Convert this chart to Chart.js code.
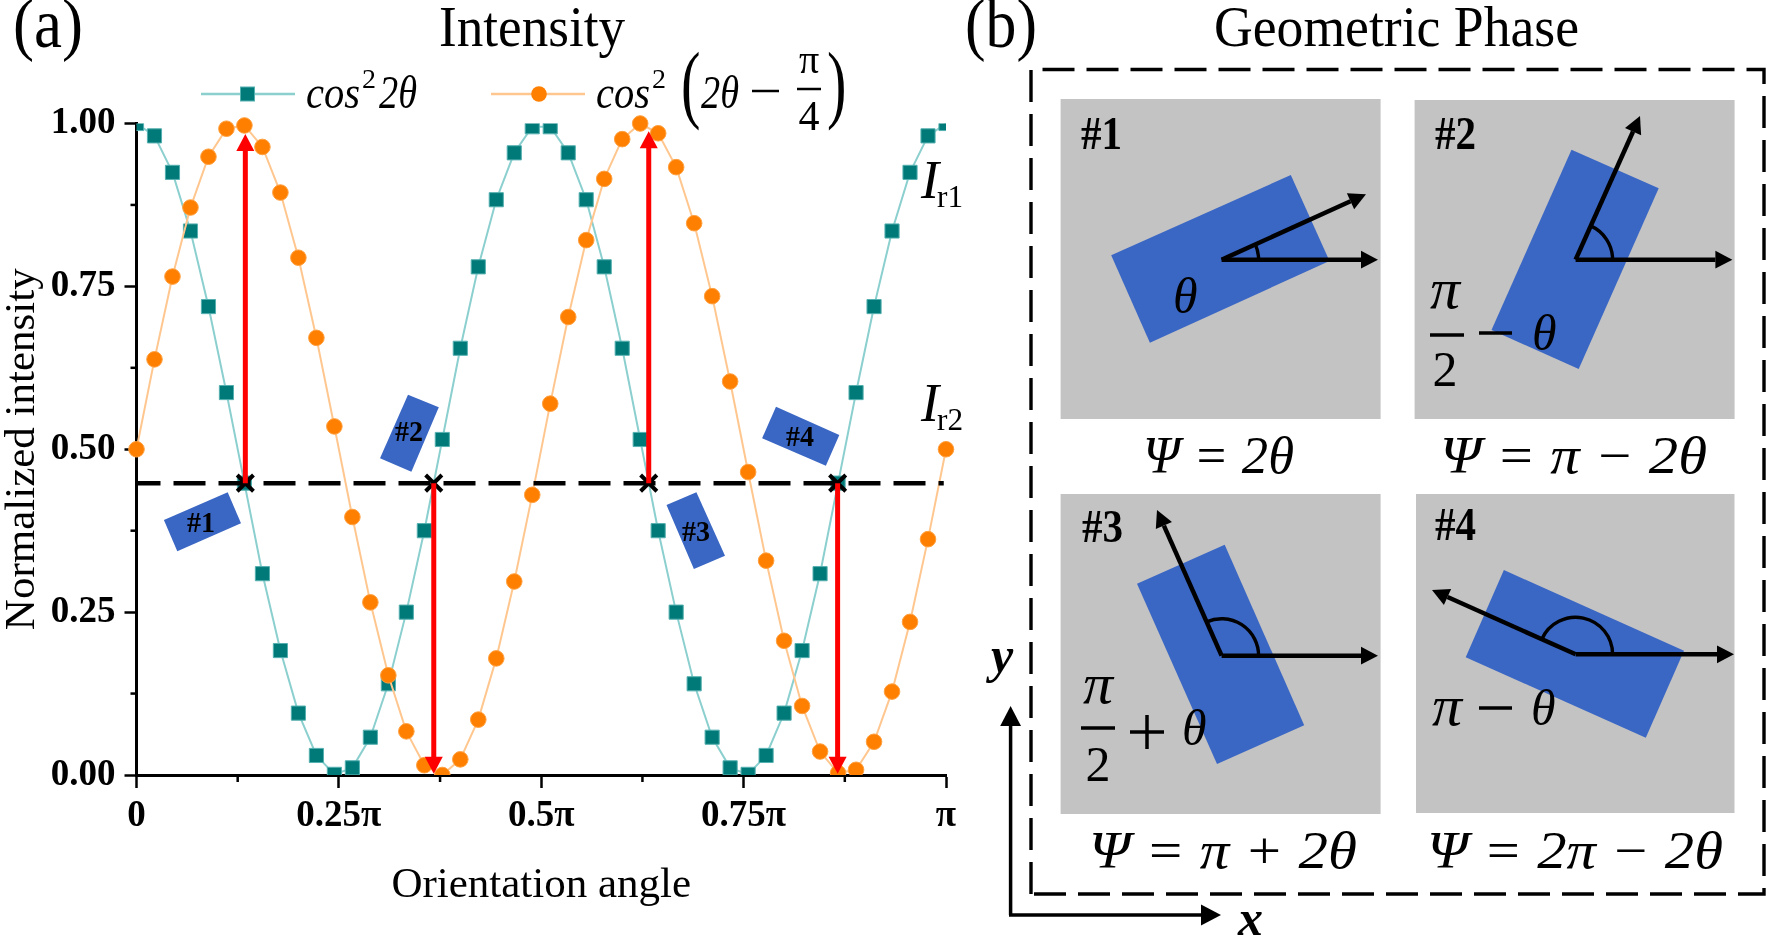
<!DOCTYPE html>
<html>
<head>
<meta charset="utf-8">
<title>Intensity and Geometric Phase</title>
<script src="https://cdn.jsdelivr.net/npm/chart.js@4/dist/chart.umd.min.js"></script>
<style>
  html, body { margin: 0; padding: 0; background: #fff; overflow: hidden; }
  #wrap { position: relative; width: 1769px; height: 941px; }
  canvas, svg { position: absolute; left: 0; top: 0; }
  text { font-family: "Liberation Serif", serif; fill: #000; }
</style>
</head>
<body>
<div id="wrap">
  <canvas id="chart" width="1769" height="941"></canvas>
  <svg id="overlay" width="1769" height="941" viewBox="0 0 1769 941"></svg>
</div>
<script>
// values
const angles = [0, 4, 8, 12, 16, 20, 24, 28, 32, 36, 40, 44, 48, 52, 56, 60, 64, 68, 72, 76, 80, 84, 88, 92,
  96, 100, 104, 108, 112, 116, 120, 124, 128, 132, 136, 140, 144, 148, 152, 156, 160, 164, 168, 172, 176, 180];
const tealValues = [1.0, 0.981, 0.925, 0.835, 0.719, 0.587, 0.448, 0.309, 0.191, 0.095, 0.03, 0.001, 0.011, 0.058, 0.14, 0.25,
  0.375, 0.515, 0.655, 0.78, 0.883, 0.955, 0.995, 0.995, 0.955, 0.883, 0.78, 0.655, 0.515, 0.375, 0.25, 0.14, 0.058,
  0.011, 0.001, 0.03, 0.095, 0.191, 0.309, 0.448, 0.587, 0.719, 0.835, 0.925, 0.981, 1.0];
const orangeValues = [0.5, 0.638, 0.765, 0.871, 0.949, 0.992, 0.997, 0.964, 0.894, 0.794, 0.671, 0.535, 0.396, 0.265, 0.153,
  0.067, 0.015, 0.0, 0.024, 0.085, 0.179, 0.297, 0.43, 0.57, 0.703, 0.821, 0.915, 0.976, 1.0, 0.985, 0.933, 0.847, 0.735,
  0.604, 0.465, 0.329, 0.206, 0.106, 0.036, 0.003, 0.008, 0.051, 0.128, 0.235, 0.362, 0.5];
const xTickValues = [0, 45, 90, 135, 180];
const xTickLabels = ['0', '0.25π', '0.5π', '0.75π', 'π'];
const xMinorTicks = [22.5, 67.5, 112.5, 157.5];
const yTickValues = [0, 0.25, 0.5, 0.75, 1];
const yMinorTicks = [0.125, 0.375, 0.625, 0.875];
const level = 0.448;
const crossAngles = [24.2, 66.1, 113.9, 155.9];
const arrowTips = [0.984, 0.002, 0.988, 0.002];

const TEAL = '#007a78', TEAL_LINE = '#8ccfcf', TEAL_EDGE = '#55b0b0';
const ORANGE = '#ff7f00', ORANGE_LINE = '#ffc78f', ORANGE_EDGE = '#ffa040';
const BLUE = '#3a66c4', GRAY = '#c3c3c3';

function pts(ys) {
  return angles.map((a, i) => ({ x: a, y: ys[i] }));
}

// short minor ticks and the red arrows, placed through the scales
const extras = {
  id: 'extras',
  afterDatasetsDraw(chart) {
    const { ctx, scales: { x, y } } = chart;
    ctx.save();
    ctx.strokeStyle = '#000';
    ctx.lineWidth = 2.5;
    xMinorTicks.forEach(v => {
      ctx.beginPath();
      ctx.moveTo(x.getPixelForValue(v), y.bottom);
      ctx.lineTo(x.getPixelForValue(v), y.bottom + 7);
      ctx.stroke();
    });
    yMinorTicks.forEach(v => {
      ctx.beginPath();
      ctx.moveTo(x.left, y.getPixelForValue(v));
      ctx.lineTo(x.left - 6, y.getPixelForValue(v));
      ctx.stroke();
    });
    ctx.strokeStyle = '#f00';
    ctx.fillStyle = '#f00';
    ctx.lineWidth = 5;
    crossAngles.forEach((a, i) => {
      const px = x.getPixelForValue(a);
      const from = y.getPixelForValue(level);
      const tip = y.getPixelForValue(arrowTips[i]);
      const dir = tip < from ? 1 : -1;
      ctx.beginPath();
      ctx.moveTo(px, from);
      ctx.lineTo(px, tip + dir * 12);
      ctx.stroke();
      ctx.beginPath();
      ctx.moveTo(px, tip);
      ctx.lineTo(px - 9, tip + dir * 17);
      ctx.lineTo(px + 9, tip + dir * 17);
      ctx.closePath();
      ctx.fill();
    });
    ctx.restore();
  }
};

new Chart(document.getElementById('chart'), {
  type: 'line',
  data: {
    datasets: [
      {
        label: 'crossings', data: crossAngles.map(a => ({ x: a, y: level })), order: 0, showLine: false,
        pointStyle: 'crossRot', pointRadius: 11.5, pointBorderWidth: 4, pointBorderColor: '#000', clip: false
      },
      {
        label: 'level', data: [{ x: 0, y: level }, { x: 179.5, y: level }], order: 1,
        borderColor: '#000', borderWidth: 4.5, borderDash: [32, 13], borderDashOffset: 8, pointRadius: 0
      },
      {
        label: 'cos²(2θ − π/4)', data: pts(orangeValues), order: 2, borderColor: ORANGE_LINE, borderWidth: 2,
        pointStyle: 'circle', pointRadius: 7.8, pointBackgroundColor: ORANGE, pointBorderColor: ORANGE_EDGE, pointBorderWidth: 1,
        clip: { left: 20, top: 20, right: 20, bottom: 0 }
      },
      {
        label: 'cos²2θ', data: pts(tealValues), order: 3, borderColor: TEAL_LINE, borderWidth: 2,
        pointStyle: 'rect', pointRadius: 10, pointBackgroundColor: TEAL, pointBorderColor: TEAL_EDGE, pointBorderWidth: 1,
        clip: 0
      }
    ]
  },
  options: {
    responsive: false,
    animation: false,
    layout: { padding: { left: 0, top: 123.5, right: 823, bottom: 0 } },
    plugins: { legend: { display: false }, tooltip: { enabled: false } },
    scales: {
      x: {
        type: 'linear', min: 0, max: 180,
        afterBuildTicks: s => { s.ticks = xTickValues.map(v => ({ value: v })); },
        afterFit: s => { s.height = 166; },
        border: { display: true, color: '#000', width: 3 },
        grid: { drawOnChartArea: false, color: '#000', tickColor: '#000', tickLength: 13, tickWidth: 2.5 },
        ticks: {
          autoSkip: false, maxRotation: 0, padding: 6, color: '#000',
          font: { family: 'Liberation Serif', size: 37, weight: 'bold' },
          callback: v => xTickLabels[xTickValues.indexOf(v)]
        },
        title: {
          display: true, text: 'Orientation angle', color: '#000',
          font: { family: 'Liberation Serif', size: 43 }, padding: { top: 0, bottom: 29 }
        }
      },
      y: {
        type: 'linear', min: 0, max: 1,
        afterBuildTicks: s => { s.ticks = yTickValues.map(v => ({ value: v })); },
        afterFit: s => { s.width = 136.5; },
        border: { display: true, color: '#000', width: 3 },
        grid: { drawOnChartArea: false, color: '#000', tickColor: '#000', tickLength: 12, tickWidth: 2.5 },
        ticks: {
          padding: 9, color: '#000',
          font: { family: 'Liberation Serif', size: 37, weight: 'bold' },
          callback: v => v.toFixed(2)
        },
        title: {
          display: true, text: 'Normalized intensity', color: '#000',
          font: { family: 'Liberation Serif', size: 43 }, padding: { top: -3, bottom: 0 }
        }
      }
    }
  },
  plugins: [extras]
});

// everything below is the drawn annotation: titles, formulae and panel (b)
const svg = document.getElementById('overlay');
const NS = 'http://www.w3.org/2000/svg';

function el(tag, attrs, content) {
  const n = document.createElementNS(NS, tag);
  Object.keys(attrs).forEach(k => n.setAttribute(k, attrs[k]));
  if (content !== undefined) n.textContent = content;
  svg.appendChild(n);
  return n;
}
function txt(s, x, y, size, extra) {
  return el('text', Object.assign({ x, y, 'font-size': size }, extra || {}), s);
}
function itxt(s, x, y, size, extra) {
  return txt(s, x, y, size, Object.assign({ 'font-style': 'italic' }, extra || {}));
}
// squeeze or stretch a string to the width it has in the picture
function fit(width, extra) {
  return Object.assign({ textLength: width, lengthAdjust: 'spacingAndGlyphs' }, extra || {});
}
function poly(points, fill) {
  el('polygon', { points: points.map(p => p.join(',')).join(' '), fill });
}
function line(x1, y1, x2, y2, color, width, dash) {
  const a = { x1, y1, x2, y2, stroke: color, 'stroke-width': width };
  if (dash) a['stroke-dasharray'] = dash;
  el('line', a);
}
function arrow(x1, y1, x2, y2, width, head) {
  const t = Math.atan2(y2 - y1, x2 - x1);
  const bx = x2 - Math.cos(t) * head, by = y2 - Math.sin(t) * head;
  const nx = -Math.sin(t) * head * 0.52, ny = Math.cos(t) * head * 0.52;
  line(x1, y1, bx, by, '#000', width);
  poly([[x2, y2], [bx + nx, by + ny], [bx - nx, by - ny]], '#000');
}
function arc(cx, cy, r, deg) {
  const t = deg * Math.PI / 180;
  const large = deg > 180 ? 1 : 0;
  el('path', {
    d: `M${cx + r} ${cy} A${r} ${r} 0 ${large} 0 ${cx + r * Math.cos(t)} ${cy - r * Math.sin(t)}`,
    fill: 'none', stroke: '#000', 'stroke-width': 3.4
  });
}

txt('(a)', 13, 47, 70, fit(70));
txt('Intensity', 439, 46, 57, fit(186));
txt('(b)', 965, 47, 70, fit(72));
txt('Geometric Phase', 1214, 46, 57, fit(365));

// legend
line(201, 94, 295, 94, TEAL_LINE, 2.5);
el('rect', { x: 240.5, y: 87, width: 14, height: 14, fill: TEAL, stroke: TEAL_EDGE, 'stroke-width': 1 });
itxt('cos', 306, 108, 46, fit(54));
txt('2', 362, 88, 28);
itxt('2θ', 379, 108, 46, fit(38));
line(491, 94, 585, 94, ORANGE_LINE, 2.5);
el('circle', { cx: 539, cy: 94, r: 7.8, fill: ORANGE });
itxt('cos', 596, 108, 46, fit(54));
txt('2', 652, 88, 28);
el('text', { transform: 'translate(681,112) scale(0.68,1)', 'font-size': 86 }, '(');
itxt('2θ', 701, 108, 46, fit(38));
line(752, 91, 779, 91, '#000', 2.5);
txt('π', 809, 73, 40, { 'text-anchor': 'middle' });
line(797, 89, 821, 89, '#000', 2.5);
txt('4', 809, 130, 42, { 'text-anchor': 'middle' });
el('text', { transform: 'translate(827,112) scale(0.68,1)', 'font-size': 86 }, ')');

// curve labels
itxt('I', 921, 198, 54);
txt('r1', 937, 207, 32, fit(26));
itxt('I', 921, 421, 54);
txt('r2', 937, 430, 32, fit(26));

// small orientation rectangles on the chart
poly([[227.7, 492.3], [241, 523.3], [177.3, 551.3], [163.9, 520]], BLUE);
poly([[408, 394.7], [438.8, 407.3], [411.4, 471.7], [380, 458.3]], BLUE);
poly([[696.4, 492.3], [725, 555.7], [693.9, 569], [666.5, 505]], BLUE);
poly([[776, 406.7], [839.3, 435], [825.9, 465.7], [762.1, 438.3]], BLUE);
const smallLabel = { 'font-weight': 'bold' };
txt('#1', 187, 532, 30, fit(28, smallLabel));
txt('#2', 395, 441, 30, fit(28, smallLabel));
txt('#3', 682, 541, 30, fit(28, smallLabel));
txt('#4', 786, 446, 30, fit(28, smallLabel));

// panel (b)
el('path', {
  d: 'M1031 894 L1031 69.5 L1764 69.5 L1764 894 L1031 894', fill: 'none', stroke: '#000',
  'stroke-width': 3.4, 'stroke-dasharray': '32 12'
});

const cells = [
  { x: 1060.6, y: 99, w: 320, h: 320 },
  { x: 1414.6, y: 100, w: 320, h: 319 },
  { x: 1060.6, y: 494, w: 320, h: 320 },
  { x: 1416, y: 494, w: 318.5, h: 319 }
];
cells.forEach(c => el('rect', { x: c.x, y: c.y, width: c.w, height: c.h, fill: GRAY }));

poly([[1290.8, 175], [1329.5, 261], [1149.9, 342.7], [1111.2, 255.3]], BLUE);
poly([[1571.5, 149.7], [1658.7, 188.3], [1578.7, 369], [1491.5, 330]], BLUE);
poly([[1224.7, 544.7], [1304.2, 725.3], [1217, 764], [1137, 583.7]], BLUE);
poly([[1503.9, 570], [1684, 650.7], [1645.8, 737.7], [1465.7, 657.3]], BLUE);

arc(1221.6, 259.7, 37, 24.4);
arc(1575.6, 259.7, 37, 65.9);
arc(1221.6, 655.7, 37, 114);
arc(1575.6, 654.3, 37, 155.9);

arrow(1221.6, 259.7, 1378, 259.7, 4.5, 17);
arrow(1221.6, 259.7, 1366, 194.3, 4.5, 17);
arrow(1575.6, 259.7, 1732.4, 259.7, 4.5, 17);
arrow(1575.6, 259.7, 1640, 116, 4.5, 17);
arrow(1221.6, 655.7, 1378, 655.7, 4.5, 17);
arrow(1221.6, 655.7, 1157, 510, 4.5, 17);
arrow(1575.6, 654.3, 1734, 654.3, 4.5, 17);
arrow(1575.6, 654.3, 1432, 590, 4.5, 17);

const cellLabel = { 'font-weight': 'bold' };
txt('#1', 1081, 149, 46, fit(41, cellLabel));
txt('#2', 1435, 149, 46, fit(41, cellLabel));
txt('#3', 1082, 541.7, 46, fit(41, cellLabel));
txt('#4', 1435, 540, 46, fit(41, cellLabel));

itxt('θ', 1173, 313, 50);
itxt('π', 1430, 308, 56, fit(30));
line(1430, 335, 1464, 335, '#000', 3.5);
txt('2', 1445, 385.7, 50, { 'text-anchor': 'middle' });
line(1479, 333, 1512, 333, '#000', 3.5);
itxt('θ', 1532, 350, 50);
itxt('π', 1083, 703, 56, fit(30));
line(1081, 728, 1115, 728, '#000', 3.5);
txt('2', 1098, 781, 50, { 'text-anchor': 'middle' });
line(1130, 732, 1164, 732, '#000', 3.5);
line(1147, 715, 1147, 749, '#000', 3.5);
itxt('θ', 1182, 745, 50);
itxt('π', 1432, 725, 56, fit(30));
line(1479, 708, 1512, 708, '#000', 3.5);
itxt('θ', 1531, 725, 50);

itxt('Ψ = 2θ', 1143, 472.7, 52, fit(151));
itxt('Ψ = π − 2θ', 1440, 472.7, 52, fit(267));
itxt('Ψ = π + 2θ', 1089, 868, 52, fit(268));
itxt('Ψ = 2π − 2θ', 1427, 868, 52, fit(296));

// x-y frame
arrow(1010.6, 915, 1010.6, 706, 3.5, 20);
arrow(1009, 915, 1221, 915, 3.5, 20);
itxt('y', 991, 672, 50, { 'font-weight': 'bold' });
itxt('x', 1238, 935, 50, { 'font-weight': 'bold' });
</script>
</body>
</html>
